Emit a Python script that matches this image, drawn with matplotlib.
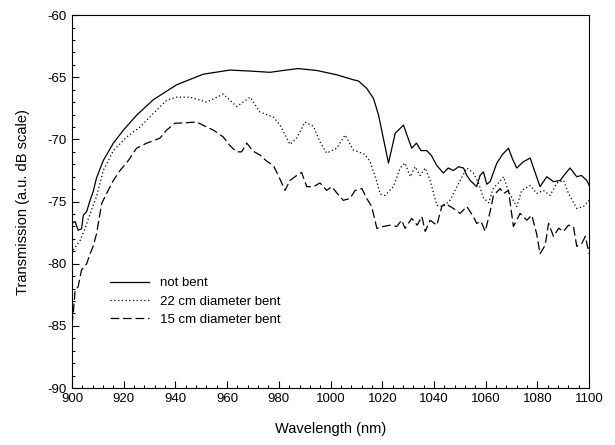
#!/usr/bin/env python3

import numpy as np
import matplotlib
matplotlib.use('Agg')
import matplotlib.pyplot as plt
from matplotlib.ticker import MultipleLocator

plt.rcParams['font.family'] = ['Liberation Sans', 'DejaVu Sans']
plt.rcParams['axes.unicode_minus'] = False

# not bent
wl_straight = [899.9, 901.2, 902.4, 903.7, 904.4, 905.7, 907.0, 908.2, 909.5, 912.1,
               916.0, 919.9, 925.0, 931.5, 940.5, 950.8, 961.1, 968.9, 976.6, 981.7,
               987.5, 994.6, 1002.4, 1008.8, 1010.8, 1014.0, 1016.6, 1018.5, 1020.5, 1022.4,
               1025.0, 1028.2, 1029.8, 1031.4, 1033.2, 1035.0, 1037.2, 1039.0, 1041.1, 1043.6,
               1045.5, 1047.5, 1049.5, 1051.4, 1052.7, 1054.0, 1056.5, 1057.8, 1059.1, 1060.4,
               1061.7, 1064.3, 1066.5, 1068.8, 1070.4, 1072.0, 1074.5, 1077.2, 1079.0, 1081.0,
               1083.6, 1086.2, 1088.8, 1090.6, 1092.6, 1095.2, 1097.0, 1099.1, 1100.0]
db_straight = [-76.75, -76.6, -77.3, -77.2, -76.1, -75.8, -74.9, -74.2, -73.1, -71.7,
               -70.3, -69.25, -68.05, -66.8, -65.6, -64.75, -64.42, -64.5, -64.6, -64.45,
               -64.3, -64.45, -64.8, -65.2, -65.3, -65.9, -66.7, -68.0, -70.0, -71.9,
               -69.5, -68.85, -69.8, -70.7, -70.3, -70.9, -70.9, -71.3, -72.1, -72.7,
               -72.3, -72.5, -72.2, -72.3, -72.9, -73.3, -73.8, -72.9, -72.6, -73.6,
               -73.4, -71.9, -71.2, -70.7, -71.6, -72.3, -71.8, -71.5, -72.6, -73.8,
               -73.0, -73.4, -73.3, -72.8, -72.3, -73.0, -72.9, -73.3, -73.7]

# 22 cm diameter bent
wl_22cm = [900.5, 903.1, 905.0, 907.0, 909.5, 912.1, 916.0, 921.2, 926.3, 931.5,
           936.6, 940.5, 945.6, 952.1, 958.5, 963.7, 968.9, 972.7, 977.9, 980.5,
           984.3, 986.9, 990.1, 993.4, 995.9, 998.5, 1002.4, 1005.6, 1008.8, 1013.3,
           1015.3, 1017.9, 1019.2, 1021.1, 1024.3, 1026.9, 1028.8, 1030.8, 1032.7, 1034.6,
           1036.6, 1038.5, 1041.1, 1043.6, 1046.2, 1050.1, 1052.7, 1055.2, 1057.2, 1059.1,
           1061.1, 1063.0, 1064.9, 1066.9, 1068.8, 1072.0, 1073.9, 1077.2, 1079.7, 1082.3,
           1084.9, 1087.5, 1090.1, 1092.0, 1095.2, 1097.8, 1100.0]
db_22cm = [-78.9, -78.15, -77.2, -76.0, -74.6, -72.5, -70.9, -69.8, -69.0, -67.9,
           -66.85, -66.6, -66.6, -67.0, -66.35, -67.35, -66.6, -67.8, -68.2, -68.85,
           -70.4, -69.9, -68.6, -68.95, -70.2, -71.1, -70.7, -69.65, -70.85, -71.2,
           -71.8, -73.4, -74.4, -74.5, -73.8, -72.3, -71.9, -73.0, -72.2, -72.9,
           -72.3, -73.3, -75.3, -75.4, -74.9, -73.3, -72.3, -72.7, -73.5, -74.7,
           -75.1, -73.9, -73.5, -73.0, -74.2, -75.4, -74.1, -73.7, -74.35, -74.1,
           -74.5, -73.5, -73.3, -74.35, -75.55, -75.4, -74.9]

# 15 cm diameter bent
wl_15cm = [899.2, 899.9, 900.5, 901.2, 902.4, 903.7, 905.7, 907.0, 908.2, 909.5,
           911.5, 913.4, 916.0, 918.6, 921.8, 925.0, 928.9, 934.0, 936.6, 939.8,
           944.4, 948.2, 952.1, 954.7, 958.5, 961.1, 963.7, 965.6, 967.6, 970.1,
           972.7, 975.3, 977.9, 979.8, 982.4, 984.3, 986.9, 988.8, 990.8, 993.4,
           995.9, 998.5, 1000.5, 1002.4, 1004.9, 1007.5, 1009.5, 1012.1, 1014.0, 1015.9,
           1017.9, 1020.4, 1023.0, 1025.6, 1027.5, 1028.8, 1031.4, 1033.5, 1035.3, 1036.6,
           1038.5, 1041.1, 1043.0, 1044.3, 1047.5, 1050.1, 1052.7, 1055.2, 1056.5, 1058.2,
           1059.8, 1061.7, 1063.0, 1065.6, 1066.9, 1068.8, 1070.7, 1073.3, 1075.9, 1077.8,
           1079.7, 1081.0, 1083.0, 1084.3, 1086.2, 1088.2, 1090.1, 1092.0, 1093.9, 1095.2,
           1097.2, 1098.5, 1100.0]
db_15cm = [-85.9, -85.1, -84.0, -82.2, -81.85, -80.5, -80.0, -79.2, -78.6, -77.6,
           -75.15, -74.35, -73.3, -72.5, -71.7, -70.7, -70.3, -69.9, -69.25, -68.7,
           -68.65, -68.6, -69.0, -69.25, -69.8, -70.5, -71.0, -71.0, -70.3, -70.95,
           -71.25, -71.75, -72.1, -72.9, -74.1, -73.3, -72.9, -72.65, -73.8, -73.8,
           -73.5, -74.1, -73.8, -74.3, -74.9, -74.75, -74.1, -73.95, -74.75, -75.4,
           -77.15, -77.0, -76.9, -77.0, -76.5, -77.15, -76.35, -76.9, -76.2, -77.4,
           -76.5, -76.9, -75.4, -75.15, -75.55, -75.95, -75.4, -76.2, -76.75, -76.6,
           -77.4, -75.8, -74.5, -73.95, -74.35, -74.1, -77.0, -75.95, -76.5, -76.1,
           -77.6, -79.2, -78.5, -76.75, -77.8, -77.15, -77.4, -76.9, -77.0, -78.6,
           -78.35, -77.8, -79.2]

fig = plt.figure(figsize=(6.15, 4.45), dpi=100)
ax = fig.add_axes([0.117, 0.128, 0.841, 0.838])

ax.plot(wl_straight, db_straight, color='black', lw=0.9, ls='-', label='not bent')
ax.plot(wl_22cm, db_22cm, color='black', lw=0.9, ls=(0, (1, 2)), label='22 cm diameter bent')
ax.plot(wl_15cm, db_15cm, color='black', lw=0.9, ls=(0, (7, 3)), label='15 cm diameter bent')

ax.set_xlim(900, 1100)
ax.set_ylim(-90, -60)
ax.xaxis.set_major_locator(MultipleLocator(20))
ax.xaxis.set_minor_locator(MultipleLocator(4))
ax.yaxis.set_major_locator(MultipleLocator(5))
ax.yaxis.set_minor_locator(MultipleLocator(1))
ax.tick_params(which='both', direction='in', top=False, right=False, labelsize=9.5)
ax.tick_params(which='major', length=5, width=0.8)
ax.tick_params(which='minor', length=2.5, width=0.8)

ax.set_xlabel('Wavelength (nm)', fontsize=10.5, labelpad=12)
ax.set_ylabel('Transmission (a.u. dB scale)', fontsize=10.5, labelpad=13)

ax.legend(loc='lower left', bbox_to_anchor=(0.05, 0.135), frameon=False,
          fontsize=9.5, handlelength=3.0, handletextpad=0.8, labelspacing=0.45)

plt.savefig('out.png', dpi=100)
plt.close()
